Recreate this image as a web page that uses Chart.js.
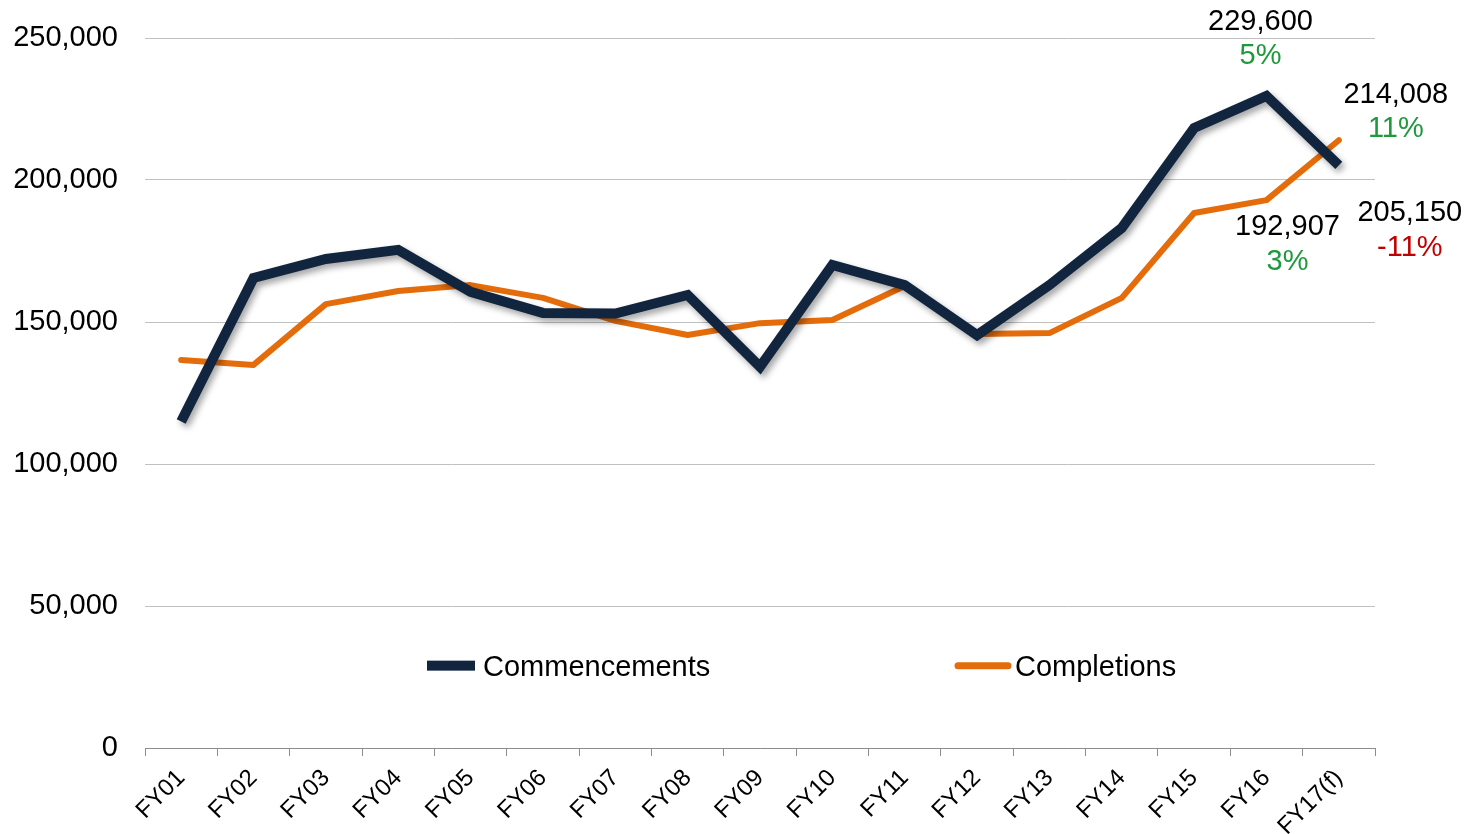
<!DOCTYPE html>
<html>
<head>
<meta charset="utf-8">
<script src="https://cdn.jsdelivr.net/npm/chart.js@4/dist/chart.umd.min.js"></script>
<style>
  html, body { margin: 0; padding: 0; background: #fff; }
  #wrap { width: 1470px; height: 834px; }
</style>
</head>
<body>
<div id="wrap"><canvas id="lineChart" width="1470" height="834"></canvas></div>
<script>
var years = ['FY01','FY02','FY03','FY04','FY05','FY06','FY07','FY08','FY09','FY10','FY11','FY12','FY13','FY14','FY15','FY16','FY17(f)'];
var commencements = [115000,165500,172200,175400,160600,153200,153000,159500,134200,170100,163000,145400,163000,183100,218300,229600,205150];
var completions = [136600,134900,156300,160900,163000,158500,150400,145400,149600,150700,162700,145800,146100,158500,188400,192907,214008];
var yTicks = [0,50000,100000,150000,200000,250000];

// value labels beside the last points: [series, index, text, colour, dx, dy]
var notes = [
    [0, 15, '229,600', '#000', -6, -74],
    [0, 15, '5%', '#1e9a3c', -6, -40],
    [1, 16, '214,008', '#000', 57, -45],
    [1, 16, '11%', '#1e9a3c', 57, -11],
    [1, 15, '192,907', '#000', 21, 27],
    [1, 15, '3%', '#1e9a3c', 21, 62],
    [0, 16, '205,150', '#000', 71, 48],
    [0, 16, '-11%', '#c00000', 71, 83]
];

var navy = '#12253f';
var orange = '#e46c0a';
var font = "'Liberation Sans', Arial, sans-serif";

var shadowPlugin = {
    id: 'shadow',
    beforeDatasetDraw: function(chart, args) {
        if (args.index !== 0) return;
        var ctx = chart.ctx;
        ctx.save();
        ctx.shadowColor = 'rgba(0,0,0,0.35)';
        ctx.shadowBlur = 6;
        ctx.shadowOffsetX = 3;
        ctx.shadowOffsetY = 4;
    },
    afterDatasetDraw: function(chart, args) {
        if (args.index !== 0) return;
        chart.ctx.restore();
    }
};

var notesPlugin = {
    id: 'notes',
    afterDraw: function(chart) {
        var ctx = chart.ctx;
        ctx.save();
        ctx.font = '29px ' + font;
        ctx.textAlign = 'center';
        ctx.textBaseline = 'middle';
        notes.forEach(function(n) {
            var pt = chart.getDatasetMeta(n[0]).data[n[1]];
            ctx.fillStyle = n[3];
            ctx.fillText(n[2], pt.x + n[4], pt.y + n[5]);
        });

        // legend inside the plot
        var y = chart.scales.y.getPixelForValue(29000);
        ctx.textAlign = 'left';
        ctx.fillStyle = navy;
        ctx.fillRect(427, y - 5, 48, 10);
        ctx.fillStyle = '#000';
        ctx.fillText('Commencements', 483, y + 2);
        ctx.strokeStyle = orange;
        ctx.lineWidth = 7;
        ctx.lineCap = 'round';
        ctx.beginPath();
        ctx.moveTo(958, y);
        ctx.lineTo(1008, y);
        ctx.stroke();
        ctx.fillText('Completions', 1015, y + 2);
        ctx.restore();
    }
};

var chart = new Chart(document.getElementById('lineChart').getContext('2d'), {
    type: 'line',
    data: {
        labels: years,
        datasets: [
            {
                label: 'Commencements',
                data: commencements,
                borderColor: navy,
                borderWidth: 10,
                borderJoinStyle: 'miter',
                borderCapStyle: 'butt',
                pointRadius: 0,
                tension: 0
            },
            {
                label: 'Completions',
                data: completions,
                borderColor: orange,
                borderWidth: 6,
                borderJoinStyle: 'round',
                borderCapStyle: 'round',
                pointRadius: 0,
                tension: 0
            }
        ]
    },
    options: {
        responsive: false,
        animation: false,
        layout: { padding: { left: 0, right: 95, top: 38, bottom: 0 } },
        plugins: {
            legend: { display: false },
            tooltip: { enabled: false }
        },
        scales: {
            x: {
                offset: true,
                grid: {
                    offset: true,
                    drawOnChartArea: false,
                    drawTicks: true,
                    tickLength: 8,
                    color: '#8c8c8c'
                },
                border: { display: true, color: '#8c8c8c', width: 1 },
                ticks: {
                    color: '#000',
                    font: { family: font, size: 24 },
                    minRotation: 45,
                    maxRotation: 45,
                    padding: 8
                },
                afterFit: function(scale) { scale.height = 86; }
            },
            y: {
                min: 0,
                max: 250000,
                afterBuildTicks: function(scale) {
                    scale.ticks = yTicks.map(function(v) { return { value: v }; });
                },
                grid: {
                    color: '#c0c0c0',
                    lineWidth: 1,
                    drawTicks: true,
                    tickLength: 27,
                    tickColor: 'rgba(0,0,0,0)'
                },
                border: { display: false },
                ticks: {
                    color: '#000',
                    font: { family: font, size: 29 },
                    padding: 0,
                    callback: function(v) { return v.toLocaleString('en-US'); }
                },
                afterFit: function(scale) { scale.width = 145; }
            }
        }
    },
    plugins: [shadowPlugin, notesPlugin]
});
</script>
</body>
</html>
